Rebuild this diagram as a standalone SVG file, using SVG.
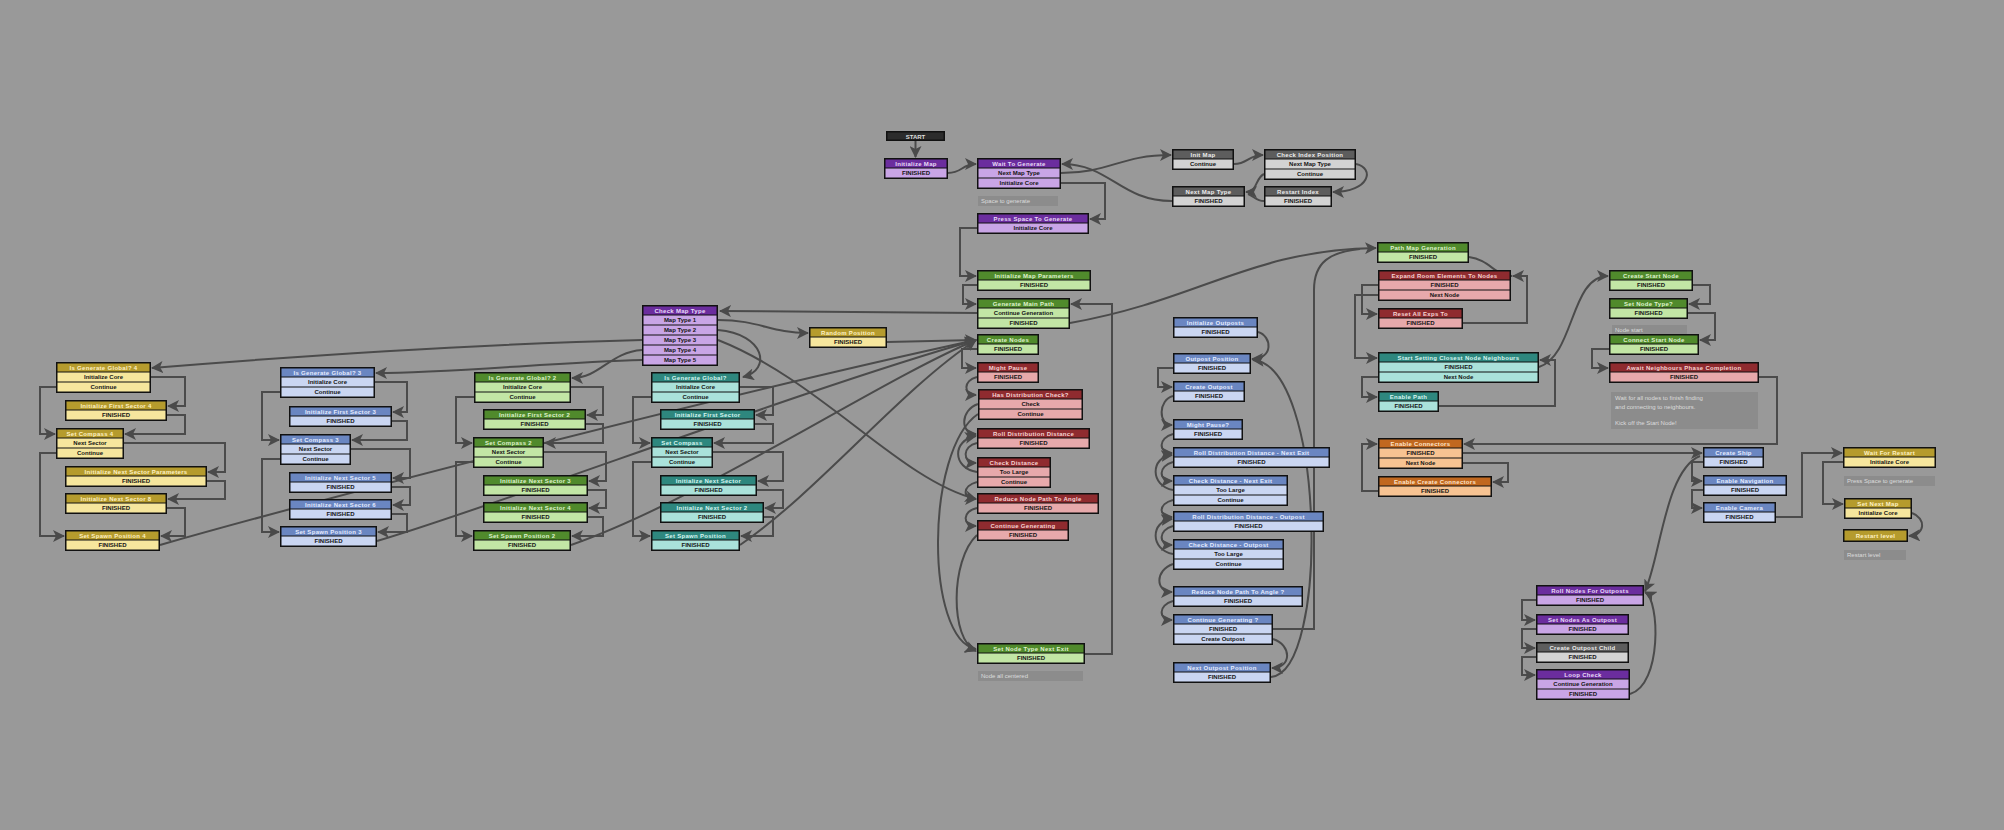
<svg xmlns="http://www.w3.org/2000/svg" width="2004" height="830" viewBox="0 0 2004 830">
<defs>
<marker id="a" markerUnits="userSpaceOnUse" markerWidth="12" markerHeight="12" viewBox="0 0 12 12" refX="11" refY="6" orient="auto"><path d="M0,0 L12,6 L0,12 L3,6 z" fill="#4a4a4a"/></marker>
</defs>
<style>
.o{fill:#111}
.pu .hd{fill:#6b2d9e}.pu .rw{fill:#c9a5e6}.pu .ht{fill:#e9dbf7}
.gr .hd{fill:#508a2c}.gr .rw{fill:#c2e6a5}.gr .ht{fill:#dff3cc}
.rd .hd{fill:#8f2b2f}.rd .rw{fill:#e7a9ab}.rd .ht{fill:#f6d3d3}
.bl .hd{fill:#6a86c1}.bl .rw{fill:#cad6f2}.bl .ht{fill:#e5ecff}
.te .hd{fill:#2e877e}.te .rw{fill:#aae2da}.te .ht{fill:#d6f6f1}
.ye .hd{fill:#b59b2d}.ye .rw{fill:#f6e69d}.ye .ht{fill:#fff2c4}
.or .hd{fill:#c1681f}.or .rw{fill:#f7c392}.or .ht{fill:#ffe5cb}
.gy .hd{fill:#5d5d5d}.gy .rw{fill:#d3d3d3}.gy .ht{fill:#ececec}
text{font-family:"Liberation Sans",Arial,sans-serif;font-size:6px;font-weight:bold;text-anchor:middle}
.rt{fill:#151515}
.ht{letter-spacing:.3px}
.cm rect{fill:#8c8c8c}
.cm text{fill:#dcdcdc;text-anchor:start;font-weight:normal}
.c path{fill:none;stroke:#4b4b4b;stroke-width:2;marker-end:url(#a)}
.c path.nm{marker-end:none}
</style>
<rect x="0" y="0" width="2004" height="830" fill="#999"/>

<g id="connectors" class="c">
<path d="M915.5,141 V157"/>
<path d="M948,173 C962,173 962,164 976,164"/>
<path d="M1061,173 C1110,173 1120,155 1171,155"/>
<path d="M1234,164 C1248,164 1248,155 1263,155"/>
<path d="M1356,164 C1375,168 1370,192 1333,192"/>
<path d="M1264,174 C1255,178 1258,192 1246,192"/>
<path class="nm" d="M1264,201 C1256,201 1254,196 1248,194"/>
<path d="M1172,201 C1120,201 1110,164 1062,164"/>
<path d="M1061,183 H1105 V219 H1090"/>
<path d="M977,228 H960 V276 H976"/>
<path d="M977,285 H963 V304 H976"/>
<path d="M977,313 L720,311"/>
<path d="M1070,323 C1200,300 1250,250 1376,248"/>
<path d="M977,349 H962 V368 H976"/>
<path d="M887,342 L976,340"/>
<path d="M718,320 C760,320 770,333 808,333"/>
<path d="M718,330 C765,334 772,370 743,377"/>
<path d="M642,340 C450,345 250,360 152,368"/>
<path d="M642,350 C610,352 600,378 572,378"/>
<path d="M642,360 C560,362 450,373 376,373"/>
<path d="M718,340 C820,380 900,480 976,499"/>

<path d="M151,377 H185 V406 H168"/>
<path d="M167,415 H185 V434 H125"/>
<path d="M124,443 H225 V472 H208"/>
<path d="M207,481 H225 V499 H168"/>
<path d="M167,508 H185 V536 H161"/>
<path d="M56,387 H40 V434 H55"/>
<path d="M56,453 H40 V536 H64"/>
<path d="M160,545 C300,505 700,400 976,340"/>

<path d="M375,382 H407 V412 H393"/>
<path d="M392,421 H407 V440 H352"/>
<path d="M351,449 H410 V478 H393"/>
<path d="M392,487 H410 V505 H393"/>
<path d="M392,514 H407 V532 H378"/>
<path d="M280,392 H262 V440 H279"/>
<path d="M280,459 H262 V532 H279"/>
<path d="M377,541 C500,505 800,390 976,340"/>

<path d="M571,387 H603 V415 H587"/>
<path d="M586,424 H603 V443 H545"/>
<path d="M544,452 H606 V481 H589"/>
<path d="M588,490 H606 V508 H589"/>
<path d="M588,517 H603 V536 H572"/>
<path d="M474,397 H456 V443 H472"/>
<path d="M473,462 H456 V536 H472"/>
<path d="M571,545 C700,500 880,380 976,340"/>

<path d="M740,387 H773 V415 H756"/>
<path d="M755,424 H773 V443 H714"/>
<path d="M713,452 H783 V481 H758"/>
<path d="M757,490 H783 V508 H765"/>
<path d="M764,517 H773 V536 H741"/>
<path d="M651,397 H633 V443 H650"/>
<path d="M651,462 H633 V536 H650"/>
<path d="M740,545 C820,490 900,390 976,340"/>

<path d="M977,377 C963,380 963,395 976,395"/>
<path d="M978,404 C960,410 960,434 976,434"/>
<path d="M978,414 C925,450 925,640 976,649"/>
<path d="M977,443 C962,446 962,463 976,463"/>
<path d="M977,472 C952,468 952,440 976,436"/>
<path d="M977,482 C962,486 962,499 976,499"/>
<path d="M977,508 C962,511 962,526 976,526"/>
<path d="M977,535 C950,560 950,640 976,651"/>
<path d="M1085,654 H1112 V304 H1071"/>

<path d="M1258,332 C1272,336 1274,359 1252,359"/>
<path d="M1173,368 H1158 V387 H1172"/>
<path d="M1173,396 C1158,400 1158,425 1172,425"/>
<path d="M1173,434 C1158,438 1158,453 1172,453"/>
<path d="M1173,462 C1158,466 1158,481 1172,481"/>
<path d="M1173,490 C1150,486 1150,457 1172,455"/>
<path d="M1173,500 C1158,504 1158,517 1172,517"/>
<path d="M1173,526 C1158,530 1158,545 1172,545"/>
<path d="M1173,554 C1150,550 1150,521 1172,519"/>
<path d="M1173,564 C1155,570 1155,592 1172,592"/>
<path d="M1173,601 C1158,605 1158,620 1172,620"/>
<path d="M1273,639 C1292,645 1292,668 1272,668"/>
<path d="M1271,677 C1330,672 1325,365 1253,360"/>
<path class="nm" d="M1273,629 H1314 V290 C1314,262 1330,252 1360,249"/>

<path d="M1469,257 C1490,260 1495,276 1512,276"/>
<path d="M1463,323 H1527 V276 H1513"/>
<path d="M1378,285 H1362 V314 H1377"/>
<path d="M1378,295 H1355 V358 H1377"/>
<path d="M1539,367 C1575,355 1570,276 1608,276"/>
<path d="M1378,377 H1362 V397 H1377"/>
<path d="M1439,406 H1555 V360 H1540"/>
<path d="M1693,285 H1710 V304 H1689"/>
<path d="M1688,313 H1715 V340 H1700"/>
<path d="M1609,349 H1592 V368 H1608"/>
<path d="M1759,377 H1777 V444 H1464"/>
<path d="M1463,453 H1702"/>
<path d="M1463,463 H1508 V482 H1493"/>
<path d="M1378,491 H1362 V444 H1377"/>
<path d="M1703,462 H1692 V481 H1702"/>
<path d="M1703,490 H1692 V508 H1702"/>
<path d="M1776,517 H1802 V453 H1842"/>
<path d="M1843,462 H1823 V504 H1843"/>
<path d="M1912,513 C1926,518 1926,535 1909,536"/>
<path d="M1700,456 C1665,470 1660,560 1645,591"/>
<path d="M1630,694 C1662,685 1660,600 1645,592"/>
<path d="M1536,600 H1522 V620 H1535"/>
<path d="M1536,629 H1522 V648 H1535"/>
<path d="M1536,657 H1522 V675 H1535"/>
</g>

<g id="comments" class="cm">
<rect x="978" y="196" width="80" height="10"/><text x="981" y="203">Space to generate</text>
<rect x="978" y="671" width="105" height="10"/><text x="981" y="678">Node all centered</text>
<rect x="1612" y="325" width="75" height="10"/><text x="1615" y="332">Node start</text>
<rect x="1611" y="392" width="147" height="37"/><text x="1615" y="400">Wait for all nodes to finish finding</text><text x="1615" y="409">and connecting to neighbours.</text><text x="1615" y="425">Kick off the Start Node!</text>
<rect x="1844" y="476" width="91" height="10"/><text x="1847" y="483">Press Space to generate</text>
<rect x="1844" y="550" width="62" height="10"/><text x="1847" y="557">Restart level</text>
</g>

<g id="start"><rect x="886" y="131" width="59" height="10" fill="#111"/><rect x="887.5" y="132.5" width="56" height="7" fill="#2c2c2c"/><text x="915.5" y="138.5" fill="#ddd">START</text></g>

<g id="initialize-map" class="pu"><rect class="o" x="884" y="158" width="64" height="21"/><rect class="hd" x="885.5" y="159.5" width="61" height="8"/><rect class="rw" x="885.5" y="168.5" width="61" height="9"/><text class="ht" x="916" y="166.2">Initialize Map</text><text class="rt" x="916" y="175.2">FINISHED</text></g>
<g id="wait-to-generate" class="pu"><rect class="o" x="977" y="158" width="84" height="31"/><rect class="hd" x="978.5" y="159.5" width="81" height="8"/><rect class="rw" x="978.5" y="168.5" width="81" height="9"/><rect class="rw" x="978.5" y="178.5" width="81" height="9"/><text class="ht" x="1019" y="166.2">Wait To Generate</text><text class="rt" x="1019" y="175.2">Next Map Type</text><text class="rt" x="1019" y="185.2">Initialize Core</text></g>
<g id="press-space" class="pu"><rect class="o" x="977" y="213" width="112" height="21"/><rect class="hd" x="978.5" y="214.5" width="109" height="8"/><rect class="rw" x="978.5" y="223.5" width="109" height="9"/><text class="ht" x="1033" y="221.2">Press Space To Generate</text><text class="rt" x="1033" y="230.2">Initialize Core</text></g>
<g id="init-map" class="gy"><rect class="o" x="1172" y="149" width="62" height="21"/><rect class="hd" x="1173.5" y="150.5" width="59" height="8"/><rect class="rw" x="1173.5" y="159.5" width="59" height="9"/><text class="ht" x="1203" y="157.2">Init Map</text><text class="rt" x="1203" y="166.2">Continue</text></g>
<g id="check-index-position" class="gy"><rect class="o" x="1264" y="149" width="92" height="31"/><rect class="hd" x="1265.5" y="150.5" width="89" height="8"/><rect class="rw" x="1265.5" y="159.5" width="89" height="9"/><rect class="rw" x="1265.5" y="169.5" width="89" height="9"/><text class="ht" x="1310" y="157.2">Check Index Position</text><text class="rt" x="1310" y="166.2">Next Map Type</text><text class="rt" x="1310" y="176.2">Continue</text></g>
<g id="next-map-type" class="gy"><rect class="o" x="1172" y="186" width="73" height="21"/><rect class="hd" x="1173.5" y="187.5" width="70" height="8"/><rect class="rw" x="1173.5" y="196.5" width="70" height="9"/><text class="ht" x="1208.5" y="194.2">Next Map Type</text><text class="rt" x="1208.5" y="203.2">FINISHED</text></g>
<g id="restart-index" class="gy"><rect class="o" x="1264" y="186" width="68" height="21"/><rect class="hd" x="1265.5" y="187.5" width="65" height="8"/><rect class="rw" x="1265.5" y="196.5" width="65" height="9"/><text class="ht" x="1298" y="194.2">Restart Index</text><text class="rt" x="1298" y="203.2">FINISHED</text></g>

<g id="initialize-map-parameters" class="gr"><rect class="o" x="977" y="270" width="114" height="21"/><rect class="hd" x="978.5" y="271.5" width="111" height="8"/><rect class="rw" x="978.5" y="280.5" width="111" height="9"/><text class="ht" x="1034" y="278.2">Initialize Map Parameters</text><text class="rt" x="1034" y="287.2">FINISHED</text></g>
<g id="generate-main-path" class="gr"><rect class="o" x="977" y="298" width="93" height="31"/><rect class="hd" x="978.5" y="299.5" width="90" height="8"/><rect class="rw" x="978.5" y="308.5" width="90" height="9"/><rect class="rw" x="978.5" y="318.5" width="90" height="9"/><text class="ht" x="1023.5" y="306.2">Generate Main Path</text><text class="rt" x="1023.5" y="315.2">Continue Generation</text><text class="rt" x="1023.5" y="325.2">FINISHED</text></g>
<g id="create-nodes" class="gr"><rect class="o" x="977" y="334" width="62" height="21"/><rect class="hd" x="978.5" y="335.5" width="59" height="8"/><rect class="rw" x="978.5" y="344.5" width="59" height="9"/><text class="ht" x="1008" y="342.2">Create Nodes</text><text class="rt" x="1008" y="351.2">FINISHED</text></g>
<g id="might-pause" class="rd"><rect class="o" x="977" y="362" width="62" height="21"/><rect class="hd" x="978.5" y="363.5" width="59" height="8"/><rect class="rw" x="978.5" y="372.5" width="59" height="9"/><text class="ht" x="1008" y="370.2">Might Pause</text><text class="rt" x="1008" y="379.2">FINISHED</text></g>
<g id="has-distribution-check" class="rd"><rect class="o" x="978" y="389" width="105" height="31"/><rect class="hd" x="979.5" y="390.5" width="102" height="8"/><rect class="rw" x="979.5" y="399.5" width="102" height="9"/><rect class="rw" x="979.5" y="409.5" width="102" height="9"/><text class="ht" x="1030.5" y="397.2">Has Distribution Check?</text><text class="rt" x="1030.5" y="406.2">Check</text><text class="rt" x="1030.5" y="416.2">Continue</text></g>
<g id="roll-distribution-distance" class="rd"><rect class="o" x="977" y="428" width="113" height="21"/><rect class="hd" x="978.5" y="429.5" width="110" height="8"/><rect class="rw" x="978.5" y="438.5" width="110" height="9"/><text class="ht" x="1033.5" y="436.2">Roll Distribution Distance</text><text class="rt" x="1033.5" y="445.2">FINISHED</text></g>
<g id="check-distance" class="rd"><rect class="o" x="977" y="457" width="74" height="31"/><rect class="hd" x="978.5" y="458.5" width="71" height="8"/><rect class="rw" x="978.5" y="467.5" width="71" height="9"/><rect class="rw" x="978.5" y="477.5" width="71" height="9"/><text class="ht" x="1014" y="465.2">Check Distance</text><text class="rt" x="1014" y="474.2">Too Large</text><text class="rt" x="1014" y="484.2">Continue</text></g>
<g id="reduce-node-path" class="rd"><rect class="o" x="977" y="493" width="122" height="21"/><rect class="hd" x="978.5" y="494.5" width="119" height="8"/><rect class="rw" x="978.5" y="503.5" width="119" height="9"/><text class="ht" x="1038" y="501.2">Reduce Node Path To Angle</text><text class="rt" x="1038" y="510.2">FINISHED</text></g>
<g id="continue-generating" class="rd"><rect class="o" x="977" y="520" width="92" height="21"/><rect class="hd" x="978.5" y="521.5" width="89" height="8"/><rect class="rw" x="978.5" y="530.5" width="89" height="9"/><text class="ht" x="1023" y="528.2">Continue Generating</text><text class="rt" x="1023" y="537.2">FINISHED</text></g>
<g id="set-node-type-next-exit" class="gr"><rect class="o" x="977" y="643" width="108" height="21"/><rect class="hd" x="978.5" y="644.5" width="105" height="8"/><rect class="rw" x="978.5" y="653.5" width="105" height="9"/><text class="ht" x="1031" y="651.2">Set Node Type Next Exit</text><text class="rt" x="1031" y="660.2">FINISHED</text></g>

<g id="random-position" class="ye"><rect class="o" x="809" y="327" width="78" height="21"/><rect class="hd" x="810.5" y="328.5" width="75" height="8"/><rect class="rw" x="810.5" y="337.5" width="75" height="9"/><text class="ht" x="848" y="335.2">Random Position</text><text class="rt" x="848" y="344.2">FINISHED</text></g>
<g id="check-map-type" class="pu"><rect class="o" x="642" y="305" width="76" height="61"/><rect class="hd" x="643.5" y="306.5" width="73" height="8"/><rect class="rw" x="643.5" y="315.5" width="73" height="9"/><rect class="rw" x="643.5" y="325.5" width="73" height="9"/><rect class="rw" x="643.5" y="335.5" width="73" height="9"/><rect class="rw" x="643.5" y="345.5" width="73" height="9"/><rect class="rw" x="643.5" y="355.5" width="73" height="9"/><text class="ht" x="680" y="313.2">Check Map Type</text><text class="rt" x="680" y="322.2">Map Type 1</text><text class="rt" x="680" y="332.2">Map Type 2</text><text class="rt" x="680" y="342.2">Map Type 3</text><text class="rt" x="680" y="352.2">Map Type 4</text><text class="rt" x="680" y="362.2">Map Type 5</text></g>

<g id="is-generate-global-4" class="ye"><rect class="o" x="56" y="362" width="95" height="31"/><rect class="hd" x="57.5" y="363.5" width="92" height="8"/><rect class="rw" x="57.5" y="372.5" width="92" height="9"/><rect class="rw" x="57.5" y="382.5" width="92" height="9"/><text class="ht" x="103.5" y="370.2">Is Generate Global? 4</text><text class="rt" x="103.5" y="379.2">Initialize Core</text><text class="rt" x="103.5" y="389.2">Continue</text></g>
<g id="initialize-first-sector-4" class="ye"><rect class="o" x="65" y="400" width="102" height="21"/><rect class="hd" x="66.5" y="401.5" width="99" height="8"/><rect class="rw" x="66.5" y="410.5" width="99" height="9"/><text class="ht" x="116" y="408.2">Initialize First Sector 4</text><text class="rt" x="116" y="417.2">FINISHED</text></g>
<g id="set-compass-4" class="ye"><rect class="o" x="56" y="428" width="68" height="31"/><rect class="hd" x="57.5" y="429.5" width="65" height="8"/><rect class="rw" x="57.5" y="438.5" width="65" height="9"/><rect class="rw" x="57.5" y="448.5" width="65" height="9"/><text class="ht" x="90" y="436.2">Set Compass 4</text><text class="rt" x="90" y="445.2">Next Sector</text><text class="rt" x="90" y="455.2">Continue</text></g>
<g id="initialize-next-sector-parameters" class="ye"><rect class="o" x="65" y="466" width="142" height="21"/><rect class="hd" x="66.5" y="467.5" width="139" height="8"/><rect class="rw" x="66.5" y="476.5" width="139" height="9"/><text class="ht" x="136" y="474.2">Initialize Next Sector Parameters</text><text class="rt" x="136" y="483.2">FINISHED</text></g>
<g id="initialize-next-sector-8" class="ye"><rect class="o" x="65" y="493" width="102" height="21"/><rect class="hd" x="66.5" y="494.5" width="99" height="8"/><rect class="rw" x="66.5" y="503.5" width="99" height="9"/><text class="ht" x="116" y="501.2">Initialize Next Sector 8</text><text class="rt" x="116" y="510.2">FINISHED</text></g>
<g id="set-spawn-position-4" class="ye"><rect class="o" x="65" y="530" width="95" height="21"/><rect class="hd" x="66.5" y="531.5" width="92" height="8"/><rect class="rw" x="66.5" y="540.5" width="92" height="9"/><text class="ht" x="112.5" y="538.2">Set Spawn Position 4</text><text class="rt" x="112.5" y="547.2">FINISHED</text></g>

<g id="is-generate-global-3" class="bl"><rect class="o" x="280" y="367" width="95" height="31"/><rect class="hd" x="281.5" y="368.5" width="92" height="8"/><rect class="rw" x="281.5" y="377.5" width="92" height="9"/><rect class="rw" x="281.5" y="387.5" width="92" height="9"/><text class="ht" x="327.5" y="375.2">Is Generate Global? 3</text><text class="rt" x="327.5" y="384.2">Initialize Core</text><text class="rt" x="327.5" y="394.2">Continue</text></g>
<g id="initialize-first-sector-3" class="bl"><rect class="o" x="289" y="406" width="103" height="21"/><rect class="hd" x="290.5" y="407.5" width="100" height="8"/><rect class="rw" x="290.5" y="416.5" width="100" height="9"/><text class="ht" x="340.5" y="414.2">Initialize First Sector 3</text><text class="rt" x="340.5" y="423.2">FINISHED</text></g>
<g id="set-compass-3" class="bl"><rect class="o" x="280" y="434" width="71" height="31"/><rect class="hd" x="281.5" y="435.5" width="68" height="8"/><rect class="rw" x="281.5" y="444.5" width="68" height="9"/><rect class="rw" x="281.5" y="454.5" width="68" height="9"/><text class="ht" x="315.5" y="442.2">Set Compass 3</text><text class="rt" x="315.5" y="451.2">Next Sector</text><text class="rt" x="315.5" y="461.2">Continue</text></g>
<g id="initialize-next-sector-5" class="bl"><rect class="o" x="289" y="472" width="103" height="21"/><rect class="hd" x="290.5" y="473.5" width="100" height="8"/><rect class="rw" x="290.5" y="482.5" width="100" height="9"/><text class="ht" x="340.5" y="480.2">Initialize Next Sector 5</text><text class="rt" x="340.5" y="489.2">FINISHED</text></g>
<g id="initialize-next-sector-6" class="bl"><rect class="o" x="289" y="499" width="103" height="21"/><rect class="hd" x="290.5" y="500.5" width="100" height="8"/><rect class="rw" x="290.5" y="509.5" width="100" height="9"/><text class="ht" x="340.5" y="507.2">Initialize Next Sector 6</text><text class="rt" x="340.5" y="516.2">FINISHED</text></g>
<g id="set-spawn-position-3" class="bl"><rect class="o" x="280" y="526" width="97" height="21"/><rect class="hd" x="281.5" y="527.5" width="94" height="8"/><rect class="rw" x="281.5" y="536.5" width="94" height="9"/><text class="ht" x="328.5" y="534.2">Set Spawn Position 3</text><text class="rt" x="328.5" y="543.2">FINISHED</text></g>

<g id="is-generate-global-2" class="gr"><rect class="o" x="474" y="372" width="97" height="31"/><rect class="hd" x="475.5" y="373.5" width="94" height="8"/><rect class="rw" x="475.5" y="382.5" width="94" height="9"/><rect class="rw" x="475.5" y="392.5" width="94" height="9"/><text class="ht" x="522.5" y="380.2">Is Generate Global? 2</text><text class="rt" x="522.5" y="389.2">Initialize Core</text><text class="rt" x="522.5" y="399.2">Continue</text></g>
<g id="initialize-first-sector-2" class="gr"><rect class="o" x="483" y="409" width="103" height="21"/><rect class="hd" x="484.5" y="410.5" width="100" height="8"/><rect class="rw" x="484.5" y="419.5" width="100" height="9"/><text class="ht" x="534.5" y="417.2">Initialize First Sector 2</text><text class="rt" x="534.5" y="426.2">FINISHED</text></g>
<g id="set-compass-2" class="gr"><rect class="o" x="473" y="437" width="71" height="31"/><rect class="hd" x="474.5" y="438.5" width="68" height="8"/><rect class="rw" x="474.5" y="447.5" width="68" height="9"/><rect class="rw" x="474.5" y="457.5" width="68" height="9"/><text class="ht" x="508.5" y="445.2">Set Compass 2</text><text class="rt" x="508.5" y="454.2">Next Sector</text><text class="rt" x="508.5" y="464.2">Continue</text></g>
<g id="initialize-next-sector-3" class="gr"><rect class="o" x="483" y="475" width="105" height="21"/><rect class="hd" x="484.5" y="476.5" width="102" height="8"/><rect class="rw" x="484.5" y="485.5" width="102" height="9"/><text class="ht" x="535.5" y="483.2">Initialize Next Sector 3</text><text class="rt" x="535.5" y="492.2">FINISHED</text></g>
<g id="initialize-next-sector-4" class="gr"><rect class="o" x="483" y="502" width="105" height="21"/><rect class="hd" x="484.5" y="503.5" width="102" height="8"/><rect class="rw" x="484.5" y="512.5" width="102" height="9"/><text class="ht" x="535.5" y="510.2">Initialize Next Sector 4</text><text class="rt" x="535.5" y="519.2">FINISHED</text></g>
<g id="set-spawn-position-2" class="gr"><rect class="o" x="473" y="530" width="98" height="21"/><rect class="hd" x="474.5" y="531.5" width="95" height="8"/><rect class="rw" x="474.5" y="540.5" width="95" height="9"/><text class="ht" x="522" y="538.2">Set Spawn Position 2</text><text class="rt" x="522" y="547.2">FINISHED</text></g>

<g id="is-generate-global" class="te"><rect class="o" x="651" y="372" width="89" height="31"/><rect class="hd" x="652.5" y="373.5" width="86" height="8"/><rect class="rw" x="652.5" y="382.5" width="86" height="9"/><rect class="rw" x="652.5" y="392.5" width="86" height="9"/><text class="ht" x="695.5" y="380.2">Is Generate Global?</text><text class="rt" x="695.5" y="389.2">Initialize Core</text><text class="rt" x="695.5" y="399.2">Continue</text></g>
<g id="initialize-first-sector" class="te"><rect class="o" x="660" y="409" width="95" height="21"/><rect class="hd" x="661.5" y="410.5" width="92" height="8"/><rect class="rw" x="661.5" y="419.5" width="92" height="9"/><text class="ht" x="707.5" y="417.2">Initialize First Sector</text><text class="rt" x="707.5" y="426.2">FINISHED</text></g>
<g id="set-compass" class="te"><rect class="o" x="651" y="437" width="62" height="31"/><rect class="hd" x="652.5" y="438.5" width="59" height="8"/><rect class="rw" x="652.5" y="447.5" width="59" height="9"/><rect class="rw" x="652.5" y="457.5" width="59" height="9"/><text class="ht" x="682" y="445.2">Set Compass</text><text class="rt" x="682" y="454.2">Next Sector</text><text class="rt" x="682" y="464.2">Continue</text></g>
<g id="initialize-next-sector" class="te"><rect class="o" x="660" y="475" width="97" height="21"/><rect class="hd" x="661.5" y="476.5" width="94" height="8"/><rect class="rw" x="661.5" y="485.5" width="94" height="9"/><text class="ht" x="708.5" y="483.2">Initialize Next Sector</text><text class="rt" x="708.5" y="492.2">FINISHED</text></g>
<g id="initialize-next-sector-2" class="te"><rect class="o" x="660" y="502" width="104" height="21"/><rect class="hd" x="661.5" y="503.5" width="101" height="8"/><rect class="rw" x="661.5" y="512.5" width="101" height="9"/><text class="ht" x="712" y="510.2">Initialize Next Sector 2</text><text class="rt" x="712" y="519.2">FINISHED</text></g>
<g id="set-spawn-position" class="te"><rect class="o" x="651" y="530" width="89" height="21"/><rect class="hd" x="652.5" y="531.5" width="86" height="8"/><rect class="rw" x="652.5" y="540.5" width="86" height="9"/><text class="ht" x="695.5" y="538.2">Set Spawn Position</text><text class="rt" x="695.5" y="547.2">FINISHED</text></g>

<g id="initialize-outposts" class="bl"><rect class="o" x="1173" y="317" width="85" height="21"/><rect class="hd" x="1174.5" y="318.5" width="82" height="8"/><rect class="rw" x="1174.5" y="327.5" width="82" height="9"/><text class="ht" x="1215.5" y="325.2">Initialize Outposts</text><text class="rt" x="1215.5" y="334.2">FINISHED</text></g>
<g id="outpost-position" class="bl"><rect class="o" x="1173" y="353" width="78" height="21"/><rect class="hd" x="1174.5" y="354.5" width="75" height="8"/><rect class="rw" x="1174.5" y="363.5" width="75" height="9"/><text class="ht" x="1212" y="361.2">Outpost Position</text><text class="rt" x="1212" y="370.2">FINISHED</text></g>
<g id="create-outpost" class="bl"><rect class="o" x="1173" y="381" width="72" height="21"/><rect class="hd" x="1174.5" y="382.5" width="69" height="8"/><rect class="rw" x="1174.5" y="391.5" width="69" height="9"/><text class="ht" x="1209" y="389.2">Create Outpost</text><text class="rt" x="1209" y="398.2">FINISHED</text></g>
<g id="might-pause-2" class="bl"><rect class="o" x="1173" y="419" width="70" height="21"/><rect class="hd" x="1174.5" y="420.5" width="67" height="8"/><rect class="rw" x="1174.5" y="429.5" width="67" height="9"/><text class="ht" x="1208" y="427.2">Might Pause?</text><text class="rt" x="1208" y="436.2">FINISHED</text></g>
<g id="roll-distribution-next-exit" class="bl"><rect class="o" x="1173" y="447" width="157" height="21"/><rect class="hd" x="1174.5" y="448.5" width="154" height="8"/><rect class="rw" x="1174.5" y="457.5" width="154" height="9"/><text class="ht" x="1251.5" y="455.2">Roll Distribution Distance - Next Exit</text><text class="rt" x="1251.5" y="464.2">FINISHED</text></g>
<g id="check-distance-next-exit" class="bl"><rect class="o" x="1173" y="475" width="115" height="31"/><rect class="hd" x="1174.5" y="476.5" width="112" height="8"/><rect class="rw" x="1174.5" y="485.5" width="112" height="9"/><rect class="rw" x="1174.5" y="495.5" width="112" height="9"/><text class="ht" x="1230.5" y="483.2">Check Distance - Next Exit</text><text class="rt" x="1230.5" y="492.2">Too Large</text><text class="rt" x="1230.5" y="502.2">Continue</text></g>
<g id="roll-distribution-outpost" class="bl"><rect class="o" x="1173" y="511" width="151" height="21"/><rect class="hd" x="1174.5" y="512.5" width="148" height="8"/><rect class="rw" x="1174.5" y="521.5" width="148" height="9"/><text class="ht" x="1248.5" y="519.2">Roll Distribution Distance - Outpost</text><text class="rt" x="1248.5" y="528.2">FINISHED</text></g>
<g id="check-distance-outpost" class="bl"><rect class="o" x="1173" y="539" width="111" height="31"/><rect class="hd" x="1174.5" y="540.5" width="108" height="8"/><rect class="rw" x="1174.5" y="549.5" width="108" height="9"/><rect class="rw" x="1174.5" y="559.5" width="108" height="9"/><text class="ht" x="1228.5" y="547.2">Check Distance - Outpost</text><text class="rt" x="1228.5" y="556.2">Too Large</text><text class="rt" x="1228.5" y="566.2">Continue</text></g>
<g id="reduce-node-path-2" class="bl"><rect class="o" x="1173" y="586" width="130" height="21"/><rect class="hd" x="1174.5" y="587.5" width="127" height="8"/><rect class="rw" x="1174.5" y="596.5" width="127" height="9"/><text class="ht" x="1238" y="594.2">Reduce Node Path To Angle ?</text><text class="rt" x="1238" y="603.2">FINISHED</text></g>
<g id="continue-generating-2" class="bl"><rect class="o" x="1173" y="614" width="100" height="31"/><rect class="hd" x="1174.5" y="615.5" width="97" height="8"/><rect class="rw" x="1174.5" y="624.5" width="97" height="9"/><rect class="rw" x="1174.5" y="634.5" width="97" height="9"/><text class="ht" x="1223" y="622.2">Continue Generating ?</text><text class="rt" x="1223" y="631.2">FINISHED</text><text class="rt" x="1223" y="641.2">Create Outpost</text></g>
<g id="next-outpost-position" class="bl"><rect class="o" x="1173" y="662" width="98" height="21"/><rect class="hd" x="1174.5" y="663.5" width="95" height="8"/><rect class="rw" x="1174.5" y="672.5" width="95" height="9"/><text class="ht" x="1222" y="670.2">Next Outpost Position</text><text class="rt" x="1222" y="679.2">FINISHED</text></g>

<g id="path-map-generation" class="gr"><rect class="o" x="1377" y="242" width="92" height="21"/><rect class="hd" x="1378.5" y="243.5" width="89" height="8"/><rect class="rw" x="1378.5" y="252.5" width="89" height="9"/><text class="ht" x="1423" y="250.2">Path Map Generation</text><text class="rt" x="1423" y="259.2">FINISHED</text></g>
<g id="expand-room-elements" class="rd"><rect class="o" x="1378" y="270" width="133" height="31"/><rect class="hd" x="1379.5" y="271.5" width="130" height="8"/><rect class="rw" x="1379.5" y="280.5" width="130" height="9"/><rect class="rw" x="1379.5" y="290.5" width="130" height="9"/><text class="ht" x="1444.5" y="278.2">Expand Room Elements To Nodes</text><text class="rt" x="1444.5" y="287.2">FINISHED</text><text class="rt" x="1444.5" y="297.2">Next Node</text></g>
<g id="reset-all-exps" class="rd"><rect class="o" x="1378" y="308" width="85" height="21"/><rect class="hd" x="1379.5" y="309.5" width="82" height="8"/><rect class="rw" x="1379.5" y="318.5" width="82" height="9"/><text class="ht" x="1420.5" y="316.2">Reset All Exps To</text><text class="rt" x="1420.5" y="325.2">FINISHED</text></g>
<g id="start-setting-neighbours" class="te"><rect class="o" x="1378" y="352" width="161" height="31"/><rect class="hd" x="1379.5" y="353.5" width="158" height="8"/><rect class="rw" x="1379.5" y="362.5" width="158" height="9"/><rect class="rw" x="1379.5" y="372.5" width="158" height="9"/><text class="ht" x="1458.5" y="360.2">Start Setting Closest Node Neighbours</text><text class="rt" x="1458.5" y="369.2">FINISHED</text><text class="rt" x="1458.5" y="379.2">Next Node</text></g>
<g id="enable-path" class="te"><rect class="o" x="1378" y="391" width="61" height="21"/><rect class="hd" x="1379.5" y="392.5" width="58" height="8"/><rect class="rw" x="1379.5" y="401.5" width="58" height="9"/><text class="ht" x="1408.5" y="399.2">Enable Path</text><text class="rt" x="1408.5" y="408.2">FINISHED</text></g>
<g id="enable-connectors" class="or"><rect class="o" x="1378" y="438" width="85" height="31"/><rect class="hd" x="1379.5" y="439.5" width="82" height="8"/><rect class="rw" x="1379.5" y="448.5" width="82" height="9"/><rect class="rw" x="1379.5" y="458.5" width="82" height="9"/><text class="ht" x="1420.5" y="446.2">Enable Connectors</text><text class="rt" x="1420.5" y="455.2">FINISHED</text><text class="rt" x="1420.5" y="465.2">Next Node</text></g>
<g id="enable-create-connectors" class="or"><rect class="o" x="1378" y="476" width="114" height="21"/><rect class="hd" x="1379.5" y="477.5" width="111" height="8"/><rect class="rw" x="1379.5" y="486.5" width="111" height="9"/><text class="ht" x="1435" y="484.2">Enable Create Connectors</text><text class="rt" x="1435" y="493.2">FINISHED</text></g>

<g id="create-start-node" class="gr"><rect class="o" x="1609" y="270" width="84" height="21"/><rect class="hd" x="1610.5" y="271.5" width="81" height="8"/><rect class="rw" x="1610.5" y="280.5" width="81" height="9"/><text class="ht" x="1651" y="278.2">Create Start Node</text><text class="rt" x="1651" y="287.2">FINISHED</text></g>
<g id="set-node-type" class="gr"><rect class="o" x="1609" y="298" width="79" height="21"/><rect class="hd" x="1610.5" y="299.5" width="76" height="8"/><rect class="rw" x="1610.5" y="308.5" width="76" height="9"/><text class="ht" x="1648.5" y="306.2">Set Node Type?</text><text class="rt" x="1648.5" y="315.2">FINISHED</text></g>
<g id="connect-start-node" class="gr"><rect class="o" x="1609" y="334" width="90" height="21"/><rect class="hd" x="1610.5" y="335.5" width="87" height="8"/><rect class="rw" x="1610.5" y="344.5" width="87" height="9"/><text class="ht" x="1654" y="342.2">Connect Start Node</text><text class="rt" x="1654" y="351.2">FINISHED</text></g>
<g id="await-neighbours" class="rd"><rect class="o" x="1609" y="362" width="150" height="21"/><rect class="hd" x="1610.5" y="363.5" width="147" height="8"/><rect class="rw" x="1610.5" y="372.5" width="147" height="9"/><text class="ht" x="1684" y="370.2">Await Neighbours Phase Completion</text><text class="rt" x="1684" y="379.2">FINISHED</text></g>

<g id="create-ship" class="bl"><rect class="o" x="1703" y="447" width="61" height="21"/><rect class="hd" x="1704.5" y="448.5" width="58" height="8"/><rect class="rw" x="1704.5" y="457.5" width="58" height="9"/><text class="ht" x="1733.5" y="455.2">Create Ship</text><text class="rt" x="1733.5" y="464.2">FINISHED</text></g>
<g id="enable-navigation" class="bl"><rect class="o" x="1703" y="475" width="84" height="21"/><rect class="hd" x="1704.5" y="476.5" width="81" height="8"/><rect class="rw" x="1704.5" y="485.5" width="81" height="9"/><text class="ht" x="1745" y="483.2">Enable Navigation</text><text class="rt" x="1745" y="492.2">FINISHED</text></g>
<g id="enable-camera" class="bl"><rect class="o" x="1703" y="502" width="73" height="21"/><rect class="hd" x="1704.5" y="503.5" width="70" height="8"/><rect class="rw" x="1704.5" y="512.5" width="70" height="9"/><text class="ht" x="1739.5" y="510.2">Enable Camera</text><text class="rt" x="1739.5" y="519.2">FINISHED</text></g>
<g id="wait-for-restart" class="ye"><rect class="o" x="1843" y="447" width="93" height="21"/><rect class="hd" x="1844.5" y="448.5" width="90" height="8"/><rect class="rw" x="1844.5" y="457.5" width="90" height="9"/><text class="ht" x="1889.5" y="455.2">Wait For Restart</text><text class="rt" x="1889.5" y="464.2">Initialize Core</text></g>
<g id="set-next-map" class="ye"><rect class="o" x="1844" y="498" width="68" height="21"/><rect class="hd" x="1845.5" y="499.5" width="65" height="8"/><rect class="rw" x="1845.5" y="508.5" width="65" height="9"/><text class="ht" x="1878" y="506.2">Set Next Map</text><text class="rt" x="1878" y="515.2">Initialize Core</text></g>
<g id="restart-level" class="ye"><rect class="o" x="1843" y="529" width="65" height="13"/><rect class="hd" x="1844.5" y="530.5" width="62" height="10"/><text class="ht" x="1875.5" y="538">Restart level</text></g>

<g id="roll-nodes-for-outposts" class="pu"><rect class="o" x="1536" y="585" width="108" height="21"/><rect class="hd" x="1537.5" y="586.5" width="105" height="8"/><rect class="rw" x="1537.5" y="595.5" width="105" height="9"/><text class="ht" x="1590" y="593.2">Roll Nodes For Outposts</text><text class="rt" x="1590" y="602.2">FINISHED</text></g>
<g id="set-nodes-as-outpost" class="pu"><rect class="o" x="1536" y="614" width="93" height="21"/><rect class="hd" x="1537.5" y="615.5" width="90" height="8"/><rect class="rw" x="1537.5" y="624.5" width="90" height="9"/><text class="ht" x="1582.5" y="622.2">Set Nodes As Outpost</text><text class="rt" x="1582.5" y="631.2">FINISHED</text></g>
<g id="create-outpost-child" class="gy"><rect class="o" x="1536" y="642" width="93" height="21"/><rect class="hd" x="1537.5" y="643.5" width="90" height="8"/><rect class="rw" x="1537.5" y="652.5" width="90" height="9"/><text class="ht" x="1582.5" y="650.2">Create Outpost Child</text><text class="rt" x="1582.5" y="659.2">FINISHED</text></g>
<g id="loop-check" class="pu"><rect class="o" x="1536" y="669" width="94" height="31"/><rect class="hd" x="1537.5" y="670.5" width="91" height="8"/><rect class="rw" x="1537.5" y="679.5" width="91" height="9"/><rect class="rw" x="1537.5" y="689.5" width="91" height="9"/><text class="ht" x="1583" y="677.2">Loop Check</text><text class="rt" x="1583" y="686.2">Continue Generation</text><text class="rt" x="1583" y="696.2">FINISHED</text></g>
</svg>
